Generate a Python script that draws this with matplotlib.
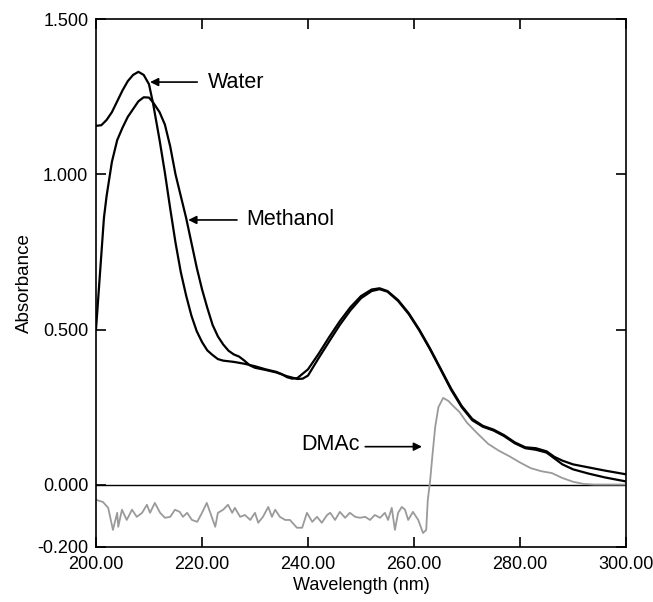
import matplotlib
matplotlib.use("Agg")
import matplotlib.pyplot as plt

plt.rcParams['font.family'] = ['Liberation Sans', 'DejaVu Sans']

# Water spectrum
water_nm = [200, 201, 202, 203, 204, 205, 206, 207, 208, 209, 210, 210.75, 212, 213,
            214, 215, 216, 217, 218, 219, 220, 221, 222, 223, 224, 225, 226, 228,
            230, 232, 234, 235, 236, 237, 238, 240, 242, 244, 246, 248, 250, 252,
            253.5, 255, 257, 259, 261, 263, 265, 267, 269, 271, 273, 275, 277, 279,
            281, 283, 285, 286.5, 288, 290, 293, 296, 300]
water_abs = [1.156, 1.158, 1.175, 1.200, 1.235, 1.270, 1.300, 1.320, 1.330, 1.320,
             1.290, 1.230, 1.110, 1.005, 0.890, 0.780, 0.685, 0.610, 0.545, 0.495,
             0.460, 0.433, 0.418, 0.405, 0.400, 0.398, 0.396, 0.390, 0.382, 0.372,
             0.364, 0.357, 0.347, 0.342, 0.344, 0.372, 0.422, 0.476, 0.527, 0.572,
             0.608, 0.629, 0.633, 0.624, 0.595, 0.553, 0.500, 0.440, 0.375, 0.310,
             0.254, 0.212, 0.190, 0.178, 0.160, 0.137, 0.121, 0.118, 0.108, 0.090,
             0.078, 0.066, 0.056, 0.046, 0.034]

# Methanol spectrum
meoh_nm = [200, 200.5, 201, 201.5, 202, 203, 204, 205, 206, 207, 208, 209, 210,
           210.75, 212, 213, 214, 215, 216, 217, 218, 219, 220, 221, 222, 223, 224,
           225, 226, 227, 228, 229, 230, 232, 234, 236, 238, 239, 240, 242, 244,
           246, 248, 250, 252, 253.5, 255, 257, 259, 261, 263, 265, 267, 269, 271,
           273, 275, 277, 279, 281, 283, 285, 286.5, 288, 290, 293, 296, 300]
meoh_abs = [0.50, 0.62, 0.74, 0.86, 0.93, 1.04, 1.11, 1.15, 1.185, 1.21, 1.235,
            1.248, 1.247, 1.232, 1.200, 1.160, 1.090, 1.000, 0.930, 0.860, 0.780,
            0.700, 0.630, 0.570, 0.515, 0.478, 0.452, 0.432, 0.420, 0.413, 0.400,
            0.385, 0.377, 0.370, 0.362, 0.350, 0.341, 0.342, 0.352, 0.408, 0.462,
            0.515, 0.562, 0.601, 0.624, 0.630, 0.622, 0.592, 0.550, 0.497, 0.437,
            0.372, 0.306, 0.250, 0.208, 0.187, 0.175, 0.157, 0.134, 0.118, 0.113,
            0.104, 0.085, 0.066, 0.050, 0.036, 0.024, 0.011]

# DMAc spectrum (cut-off near 263 nm)
dmac_nm = [200.0, 201.3, 202.3, 203.2, 204.0, 204.2, 204.9, 205.8, 206.8, 207.7,
           208.7, 209.6, 210.2, 211.1, 212.1, 213.0, 214.0, 214.9, 215.8, 216.4,
           217.2, 218.1, 219.1, 220.0, 220.9, 221.9, 222.5, 223.0, 224.0, 224.9,
           225.7, 226.2, 227.2, 228.1, 229.1, 230.0, 230.6, 231.5, 232.5, 233.2,
           233.8, 234.7, 235.7, 236.6, 237.9, 238.9, 239.8, 240.8, 241.7, 242.6,
           243.6, 244.2, 245.1, 246.0, 247.0, 247.9, 248.9, 249.8, 250.8, 251.7,
           252.6, 253.6, 254.5, 255.1, 255.8, 256.4, 257.0, 257.7, 258.3, 258.9,
           259.8, 260.8, 261.7, 262.3, 262.6, 263.0, 263.5, 264.0, 264.6, 265.5,
           266.5, 267.5, 268.5, 270.0, 272.0, 274.0, 276.0, 278.0, 280.0, 282.0,
           284.0, 286.0, 288.0, 290.0, 292.0, 294.0, 300.0]
dmac_abs = [-0.048, -0.055, -0.074, -0.145, -0.090, -0.135, -0.080, -0.113, -0.080,
            -0.103, -0.090, -0.064, -0.090, -0.058, -0.090, -0.106, -0.103, -0.080,
            -0.087, -0.103, -0.090, -0.113, -0.119, -0.090, -0.058, -0.106, -0.135,
            -0.090, -0.080, -0.064, -0.090, -0.074, -0.103, -0.097, -0.113, -0.090,
            -0.122, -0.103, -0.071, -0.103, -0.080, -0.103, -0.113, -0.113, -0.138,
            -0.138, -0.090, -0.119, -0.103, -0.122, -0.097, -0.090, -0.113, -0.087,
            -0.106, -0.090, -0.103, -0.106, -0.103, -0.113, -0.097, -0.106, -0.090,
            -0.113, -0.074, -0.145, -0.090, -0.071, -0.080, -0.113, -0.087, -0.113,
            -0.155, -0.145, -0.048, 0.006, 0.100, 0.187, 0.250, 0.280, 0.270, 0.252,
            0.236, 0.200, 0.165, 0.132, 0.110, 0.092, 0.072, 0.054, 0.044, 0.038,
            0.022, 0.010, 0.003, 0.001, 0.001]

x_ticks = [200, 220, 240, 260, 280, 300]
y_ticks = [-0.2, 0.0, 0.5, 1.0, 1.5]

fig = plt.figure(figsize=(6.53, 6.02), dpi=100)
ax = fig.add_axes([0.147, 0.0914, 0.8117, 0.877])

ax.axhline(0, color='black', lw=1.0, zorder=1)
ax.plot(dmac_nm, dmac_abs, color='#9a9a9a', lw=1.3, zorder=2)
ax.plot(water_nm, water_abs, color='black', lw=1.6, zorder=3)
ax.plot(meoh_nm, meoh_abs, color='black', lw=1.6, zorder=3)

ax.set_xlim(200, 300)
ax.set_ylim(-0.2, 1.5)
ax.set_xticks(x_ticks)
ax.set_yticks(y_ticks)
ax.set_xticklabels([f"{v:.2f}" for v in x_ticks])
ax.set_yticklabels([f"{v:.3f}" for v in y_ticks])
ax.tick_params(direction='in', top=True, right=True, length=7, width=1.2,
               labelsize=13)
ax.tick_params(axis='y', pad=5.5)
ax.tick_params(axis='x', pad=6.5)
for s in ax.spines.values():
    s.set_linewidth(1.2)

ax.set_xlabel("Wavelength (nm)", fontsize=13, labelpad=3)
ax.set_ylabel("Absorbance", fontsize=13.5, labelpad=3)

arrow = dict(arrowstyle='-|>', color='black', lw=1.2, mutation_scale=12,
             shrinkA=0, shrinkB=0)
ax.annotate("", xy=(210.2, 1.297), xytext=(219.1, 1.297), arrowprops=arrow)
ax.text(221.1, 1.297, "Water", fontsize=15.5, va='center', ha='left')
ax.annotate("", xy=(217.4, 0.853), xytext=(226.6, 0.853), arrowprops=arrow)
ax.text(228.3, 0.853, "Methanol", fontsize=15.5, va='center', ha='left')
ax.annotate("", xy=(261.5, 0.123), xytext=(250.8, 0.123), arrowprops=arrow)
ax.text(238.7, 0.129, "DMAc", fontsize=15.5, va='center', ha='left')

fig.savefig("out.png", dpi=100)
